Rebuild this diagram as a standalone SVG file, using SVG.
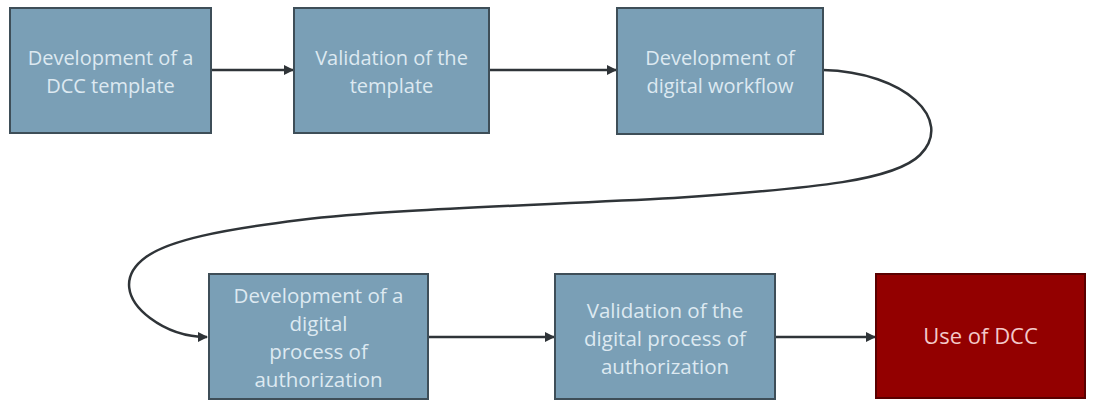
<svg xmlns="http://www.w3.org/2000/svg" width="1098" height="403" viewBox="0 0 1098 403">
<defs>
<style>
.box{fill:#7a9fb6;stroke:#3e4e58;stroke-width:2}
.red{fill:#930000;stroke:#5a0000;stroke-width:2}
.t{font-family:"Open Sans","Noto Sans",sans-serif;font-size:20px;fill:#dde9f1;text-anchor:middle}
.t2{font-family:"Open Sans","Noto Sans",sans-serif;font-size:20.5px;fill:#dde9f1;text-anchor:middle}
.tr{font-family:"Open Sans","Noto Sans",sans-serif;font-size:22px;fill:#f3c9c9;text-anchor:middle}
.c{fill:none;stroke:#2f3438;stroke-width:2.5}
</style>
<marker id="ah" viewBox="0 0 10 10" refX="9" refY="5" markerWidth="4" markerHeight="4" orient="auto" markerUnits="strokeWidth">
<path d="M0,0 L10,5 L0,10 z" fill="#2f3438"/>
</marker>
</defs>
<rect width="1098" height="403" fill="#ffffff"/>
<g id="connectors">
<line class="c" x1="211" y1="70" x2="293" y2="70" marker-end="url(#ah)"/>
<line class="c" x1="489" y1="70" x2="616" y2="70" marker-end="url(#ah)"/>
<path class="c" d="M823,70 C905,72 955,120 920,155 C895,180 820,188 674,198 C520,206 380,210 300,220 C220,230 170,240 146,257 C120,276 126,300 150,318 C170,333 190,337 207,337" marker-end="url(#ah)"/>
<line class="c" x1="428" y1="337" x2="554" y2="337" marker-end="url(#ah)"/>
<line class="c" x1="775" y1="337" x2="875" y2="337" marker-end="url(#ah)"/>
</g>
<g id="n1">
<rect class="box" x="10" y="8" width="201" height="125"/>
<text class="t" x="110.5" y="65">Development of a</text>
<text class="t" x="110.5" y="93">DCC template</text>
</g>
<g id="n2">
<rect class="box" x="294" y="8" width="195" height="125"/>
<text class="t" x="391.5" y="65">Validation of the</text>
<text class="t" x="391.5" y="93">template</text>
</g>
<g id="n3">
<rect class="box" x="617" y="8" width="206" height="126"/>
<text class="t" x="720" y="65">Development of</text>
<text class="t" x="720" y="93">digital workflow</text>
</g>
<g id="n4">
<rect class="box" x="209" y="274" width="219" height="125"/>
<text class="t2" x="318.5" y="303">Development of a</text>
<text class="t2" x="318.5" y="331">digital</text>
<text class="t2" x="318.5" y="359">process of</text>
<text class="t2" x="318.5" y="387">authorization</text>
</g>
<g id="n5">
<rect class="box" x="555" y="274" width="220" height="125"/>
<text class="t2" x="665" y="318">Validation of the</text>
<text class="t2" x="665" y="346">digital process of</text>
<text class="t2" x="665" y="374">authorization</text>
</g>
<g id="n6">
<rect class="red" x="876" y="274" width="209" height="124"/>
<text class="tr" x="980.5" y="344">Use of DCC</text>
</g>
</svg>
